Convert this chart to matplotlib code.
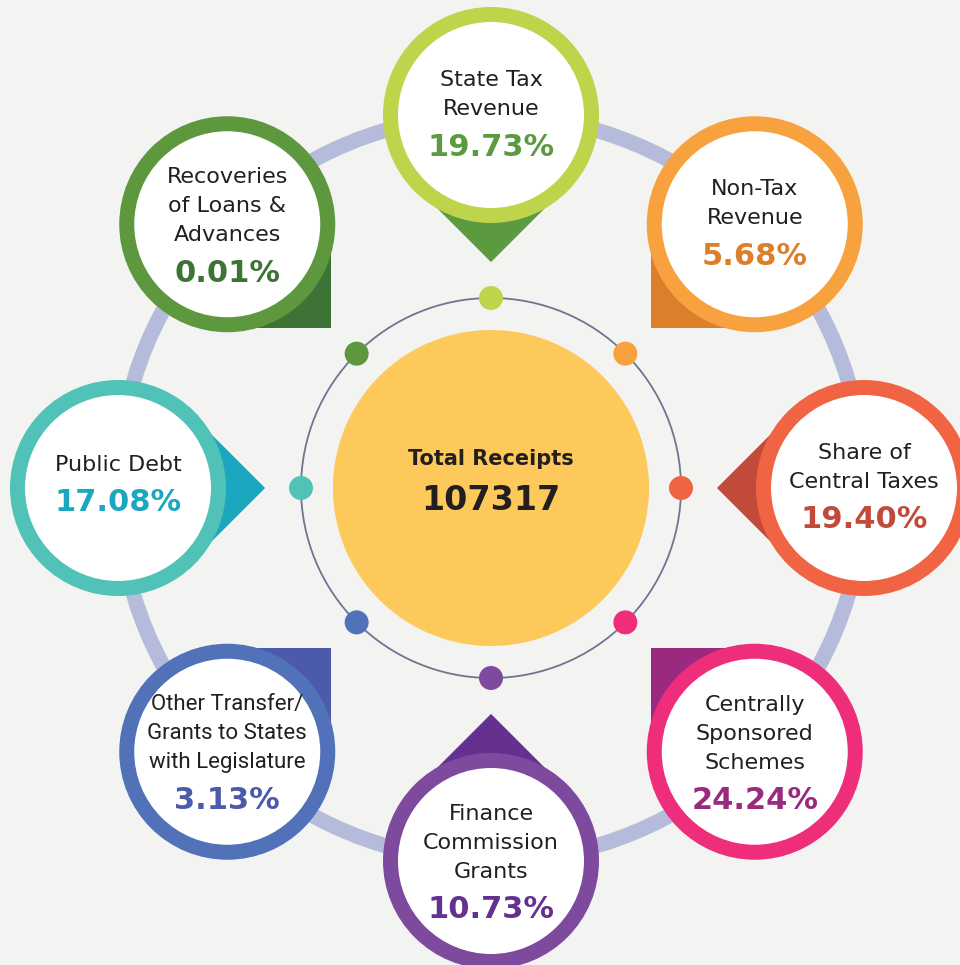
import numpy as np
import matplotlib
matplotlib.use("Agg")
import matplotlib.pyplot as plt
from matplotlib.patches import Circle, Polygon

# Data
total_receipts = 107317
categories = [
    "State Tax\nRevenue",
    "Non-Tax\nRevenue",
    "Share of\nCentral Taxes",
    "Centrally\nSponsored\nSchemes",
    "Finance\nCommission\nGrants",
    "Other Transfer/\nGrants to States\nwith Legislature",
    "Public Debt",
    "Recoveries\nof Loans &\nAdvances",
]
shares = [19.73, 5.68, 19.40, 24.24, 10.73, 3.13, 17.08, 0.01]
ring_colors = ["#bdd44b", "#f7a23f", "#f06444", "#ee2e7b",
               "#7e4a9e", "#5171b9", "#51c2b7", "#5d983f"]
accent_colors = ["#5b9a3f", "#dd7e2a", "#c14a3a", "#9a2a80",
                 "#65308f", "#4b5ba9", "#1aa7bf", "#3e7336"]

# layout (pixel coordinates)
W, H = 960, 965
cx, cy = 491, 488
R_ring = 373
r_out, r_in = 108, 93
sq = 104

fig = plt.figure(figsize=(W / 100, H / 100), dpi=100)
fig.patch.set_facecolor("#f3f3f2")
ax = fig.add_axes([0, 0, 1, 1])
ax.set_xlim(0, W)
ax.set_ylim(H, 0)
ax.set_aspect("equal")
ax.axis("off")

# big lavender ring
ax.add_patch(Circle((cx, cy), R_ring, fill=False, ec="#b4bbdb", lw=11, zorder=1))
# thin inner ring and central disc
ax.add_patch(Circle((cx, cy), 190, fill=False, ec="#6d7691", lw=1.3, zorder=2))
ax.add_patch(Circle((cx, cy), 158, fc="#fdc95b", ec="none", zorder=3))
ax.text(cx, 459, "Total Receipts", ha="center", va="center", fontsize=15,
        fontweight="bold", color="#231f20", zorder=4)
ax.text(cx, 500, str(total_receipts), ha="center", va="center", fontsize=24,
        fontweight="bold", color="#231f20", zorder=4)

angles = np.deg2rad([90, 45, 0, -45, -90, -135, 180, 135])
line_gap = 29

for i, th in enumerate(angles):
    u = np.array([np.cos(th), -np.sin(th)])
    # dot on the thin ring
    ax.add_patch(Circle((cx + 190 * u[0], cy + 190 * u[1]), 12,
                        fc=ring_colors[i], ec="none", zorder=4))
    px, py = cx + R_ring * u[0], cy + R_ring * u[1]
    d = -u
    a1 = np.array([d[0] * np.cos(np.pi / 4) - d[1] * np.sin(np.pi / 4),
                   d[0] * np.sin(np.pi / 4) + d[1] * np.cos(np.pi / 4)])
    a2 = np.array([d[0] * np.cos(-np.pi / 4) - d[1] * np.sin(-np.pi / 4),
                   d[0] * np.sin(-np.pi / 4) + d[1] * np.cos(-np.pi / 4)])
    c = np.array([px, py])
    ax.add_patch(Polygon([c, c + sq * a1, c + sq * (a1 + a2), c + sq * a2],
                         closed=True, fc=accent_colors[i], ec="none", zorder=5))
    ax.add_patch(Circle((px, py), r_out, fc=ring_colors[i], ec="none", zorder=6))
    ax.add_patch(Circle((px, py), r_in, fc="white", ec="none", zorder=7))

    lines = categories[i].split("\n")
    n = len(lines)
    if i == 5:
        fam, fs = "Roboto", 16
    else:
        fam, fs = "DejaVu Sans", 16
    top = py - 23 - (n - 1) * 12
    for k, ln in enumerate(lines):
        ax.text(px, top + k * line_gap, ln, ha="center", va="center",
                fontsize=fs, family=fam, color="#231f20", zorder=8)
    ax.text(px, top + (n - 1) * line_gap + 38, f"{shares[i]:.2f}%",
            ha="center", va="center", fontsize=22, fontweight="bold",
            color=accent_colors[i], zorder=8)

fig.savefig("out.png", dpi=100, facecolor=fig.get_facecolor())
